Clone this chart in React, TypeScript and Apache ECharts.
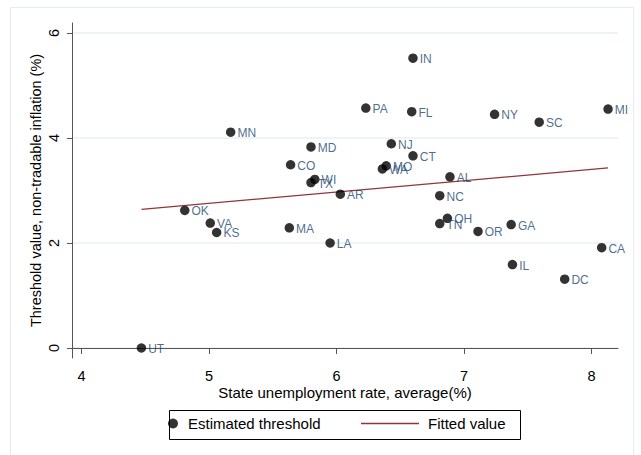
import React, { useEffect, useRef } from "react";
import * as echarts from "echarts";

const states = ["MN", "MD", "CO", "WI", "TX", "AR", "OK", "PA", "IN", "FL", "NY", "SC", "MI", "NJ", "CT", "MO", "WA", "AL", "NC", "VA", "KS", "MA", "LA", "UT", "OH", "TN", "OR", "GA", "CA", "IL", "DC"];
const unemployment = [5.17, 5.8, 5.64, 5.83, 5.8, 6.03, 4.81, 6.23, 6.6, 6.59, 7.24, 7.59, 8.13, 6.43, 6.6, 6.39, 6.36, 6.89, 6.81, 5.01, 5.06, 5.63, 5.95, 4.47, 6.87, 6.81, 7.11, 7.37, 8.08, 7.38, 7.79];
const threshold = [4.11, 3.83, 3.49, 3.21, 3.15, 2.93, 2.62, 4.57, 5.52, 4.5, 4.45, 4.3, 4.55, 3.89, 3.66, 3.47, 3.41, 3.26, 2.9, 2.38, 2.2, 2.29, 2.0, 0.0, 2.47, 2.37, 2.22, 2.35, 1.91, 1.59, 1.31];
const fitX = [4.47, 8.13];
const fitY = [2.64, 3.43];
const xTicks = [4, 5, 6, 7, 8];
const yTicks = [0, 2, 4, 6];

const FONT = "'Liberation Sans', Arial, Helvetica, sans-serif";

export default function App() {
  const ref = useRef<HTMLDivElement>(null);
  useEffect(() => {
    document.body.style.margin = "0";
    const chart = echarts.init(ref.current!, null, { renderer: "svg" });
    const scatterData = states.map((s, i) => ({ name: s, value: [unemployment[i], threshold[i]] }));
    const fitData = fitX.map((x, i) => [x, fitY[i]]);
    chart.setOption({
      animation: false,
      backgroundColor: "#ffffff",
      textStyle: { fontFamily: FONT },
      grid: { left: 72, right: 23, top: 23, bottom: 97 },
      xAxis: {
        type: "value",
        min: 3.9255,
        max: 8.208,
        name: "State unemployment rate, average(%)",
        nameLocation: "middle",
        nameGap: 27,
        nameMoveOverlap: false,
        nameTextStyle: { fontSize: 15, color: "#000", fontFamily: FONT },
        axisLine: { show: true, lineStyle: { color: "#555", width: 1 } },
        axisTick: { show: true, length: 6, customValues: xTicks, lineStyle: { color: "#555" } },
        axisLabel: { customValues: xTicks, fontSize: 14.5, color: "#000", margin: 10, fontFamily: FONT },
        splitLine: { show: false },
      },
      yAxis: {
        type: "value",
        min: -0.1905,
        max: 6.19,
        name: "Threshold value, non-tradable inflation (%)",
        nameLocation: "middle",
        nameGap: 29,
        nameMoveOverlap: false,
        nameTextStyle: { fontSize: 14.5, color: "#000", fontFamily: FONT },
        axisLine: { show: true, lineStyle: { color: "#555", width: 1 } },
        axisTick: { show: true, length: 5, customValues: yTicks, lineStyle: { color: "#555" } },
        axisLabel: { customValues: yTicks, fontSize: 14.5, color: "#000", rotate: 90, margin: 11, fontFamily: FONT },
        splitLine: { show: true, lineStyle: { color: "#e8eff2", width: 1.5 } },
      },
      legend: [
        {
          data: ["Estimated threshold"],
          left: 168,
          top: 416,
          padding: 0,
          itemWidth: 20,
          itemHeight: 10,
          icon: "circle",
          selectedMode: false,
          textStyle: { fontSize: 15, color: "#000", fontFamily: FONT },
        },
        {
          data: [{ name: "Fitted value", icon: "rect" }],
          left: 361,
          top: 416,
          padding: 0,
          itemWidth: 58,
          itemHeight: 1.5,
          selectedMode: false,
          textStyle: { fontSize: 15, color: "#000", fontFamily: FONT, padding: [0, 0, 0, 4] },
        },
      ],
      graphic: [
        {
          type: "rect",
          silent: true,
          z: -10,
          shape: { x: 10.5, y: 7.5, width: 623, height: 470 },
          style: { fill: "none", stroke: "#e4ecef", lineWidth: 1 },
        },
        {
          type: "rect",
          silent: true,
          shape: { x: 169.5, y: 410.5, width: 351, height: 29 },
          style: { fill: "none", stroke: "#000", lineWidth: 1 },
        },
      ],
      series: [
        {
          name: "Estimated threshold",
          type: "scatter",
          data: scatterData,
          symbol: "circle",
          symbolSize: 9.5,
          itemStyle: { color: "#000" },
          label: {
            show: true,
            position: "right",
            distance: 2,
            offset: [0, 1],
            formatter: "{b}",
            color: "#1a476f",
            fontSize: 12,
            fontFamily: FONT,
          },
          z: 3,
        },
        {
          name: "Fitted value",
          type: "line",
          data: fitData,
          symbol: "none",
          showSymbol: false,
          color: "#90353b",
          itemStyle: { color: "#90353b" },
          lineStyle: { color: "#90353b", width: 1.3 },
          z: 2,
        },
      ],
    });
    return () => chart.dispose();
  }, []);
  return <div ref={ref} style={{ position: "absolute", left: 0, top: 0, width: 641, height: 455 }} />;
}
